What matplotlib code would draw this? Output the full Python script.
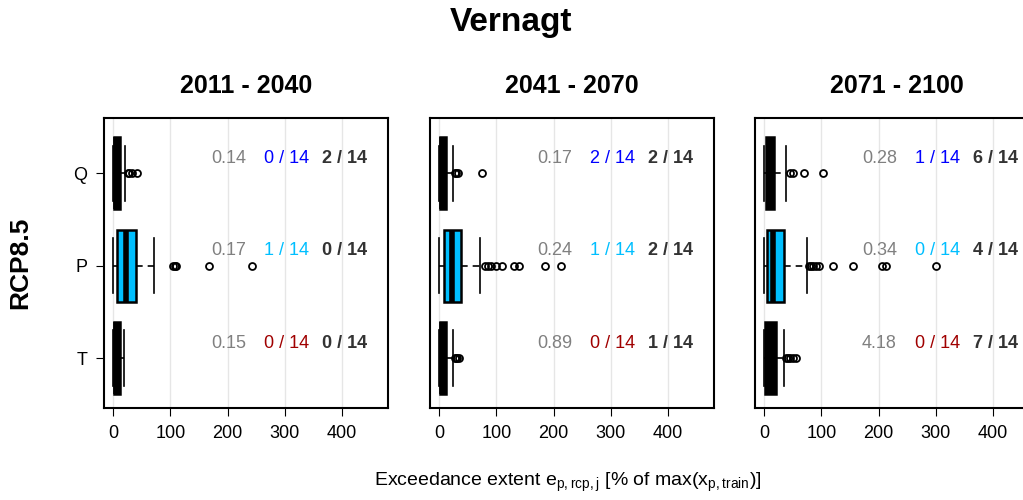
import matplotlib.pyplot as plt

plt.rcParams["font.family"] = ["Liberation Sans", "DejaVu Sans"]
plt.rcParams["mathtext.fontset"] = "custom"
plt.rcParams["mathtext.rm"] = "Liberation Sans"

periods = ["2011 - 2040", "2041 - 2070", "2071 - 2100"]
variables = ["T", "P", "Q"]
var_colors = {"Q": "#0000ff", "P": "#00bfff", "T": "#a00000"}

# box stats per period, per variable: (whislo, q1, med, q3, whishi, fliers)
stats = {
    "2011 - 2040": {
        "T": (0, 1, 5, 12, 19, []),
        "P": (0, 7, 23, 40, 72, [105, 108, 110, 168, 243]),
        "Q": (0, 1, 5, 12, 20, [25, 28, 32, 42]),
    },
    "2041 - 2070": {
        "T": (0, 1, 5, 12, 25, [28, 30, 32, 35]),
        "P": (0, 8, 22, 38, 72, [80, 85, 90, 100, 110, 130, 140, 185, 212]),
        "Q": (0, 1, 5, 12, 25, [28, 30, 33, 75]),
    },
    "2071 - 2100": {
        "T": (0, 2, 12, 20, 35, [38, 42, 46, 50, 55]),
        "P": (0, 5, 15, 35, 75, [78, 82, 86, 90, 95, 120, 155, 205, 212, 300]),
        "Q": (0, 3, 13, 18, 38, [45, 50, 70, 103]),
    },
}

ratios = {"2011 - 2040": {"Q": "0.14", "P": "0.17", "T": "0.15"},
          "2041 - 2070": {"Q": "0.17", "P": "0.24", "T": "0.89"},
          "2071 - 2100": {"Q": "0.28", "P": "0.34", "T": "4.18"}}
colored_counts = {"2011 - 2040": {"Q": "0 / 14", "P": "1 / 14", "T": "0 / 14"},
                  "2041 - 2070": {"Q": "2 / 14", "P": "1 / 14", "T": "0 / 14"},
                  "2071 - 2100": {"Q": "1 / 14", "P": "0 / 14", "T": "0 / 14"}}
bold_counts = {"2011 - 2040": {"Q": "2 / 14", "P": "0 / 14", "T": "0 / 14"},
               "2041 - 2070": {"Q": "2 / 14", "P": "2 / 14", "T": "1 / 14"},
               "2071 - 2100": {"Q": "6 / 14", "P": "4 / 14", "T": "7 / 14"}}

xticks = [0, 100, 200, 300, 400]

fig = plt.figure(figsize=(10.23, 5), dpi=100)
lefts = [0.1017, 0.4203, 0.738]

for i, period in enumerate(periods):
    ax = fig.add_axes([lefts[i], 0.184, 0.2776, 0.58])
    for k, var in enumerate(variables):
        lo, q1, med, q3, hi, fl = stats[period][var]
        s = [dict(whislo=lo, q1=q1, med=med, q3=q3, whishi=hi, fliers=fl)]
        ax.bxp(s, positions=[k + 1], widths=0.78, orientation="horizontal",
               patch_artist=True, showfliers=True,
               boxprops=dict(facecolor=var_colors[var] if var == "P" else "black",
                             edgecolor="black", linewidth=1.8),
               medianprops=dict(color="black", linewidth=4),
               whiskerprops=dict(color="black", linewidth=1.2, linestyle=(0, (4, 3))),
               capprops=dict(color="black", linewidth=1.2),
               capwidths=0.6,
               flierprops=dict(marker="o", markersize=5, markerfacecolor="none",
                               markeredgecolor="black", markeredgewidth=1.3))
        ty = k + 1 + 0.16
        ax.text(232, ty, ratios[period][var], ha="right", va="center",
                color="#808080", fontsize=13)
        ax.text(342, ty, colored_counts[period][var], ha="right", va="center",
                color=var_colors[var], fontsize=13)
        ax.text(444, ty, bold_counts[period][var], ha="right", va="center",
                color="#333333", fontsize=13, fontweight="bold")
    ax.set_xlim(-16, 480)
    ax.set_ylim(0.46, 3.6)
    ax.set_xticks(xticks)
    ax.set_xticklabels([str(t) for t in xticks], fontsize=13)
    ax.tick_params(axis="both", length=6, pad=6)
    for t in xticks:
        ax.axvline(t, color="#e6e6e6", linewidth=1, zorder=0)
    if i == 0:
        ax.set_yticks([1, 2, 3])
        ax.set_yticklabels(variables, fontsize=13)
    else:
        ax.set_yticks([])
    for sp in ax.spines.values():
        sp.set_linewidth(1.5)
    ax.set_title(period, fontsize=18, fontweight="bold", pad=18)

fig.text(20 / 1023, 0.474, "RCP8.5", rotation=90, ha="center", va="center",
         fontsize=19, fontweight="bold")
fig.text(0.5, 0.955, "Vernagt", ha="center", va="center", fontsize=24, fontweight="bold")
fig.text(0.555, 0.035, r"Exceedance extent e$_{\mathrm{p,rcp,j}}$ [% of max(x$_{\mathrm{p,train}}$)]",
         ha="center", va="center", fontsize=14)

fig.savefig("out.png", dpi=100)
